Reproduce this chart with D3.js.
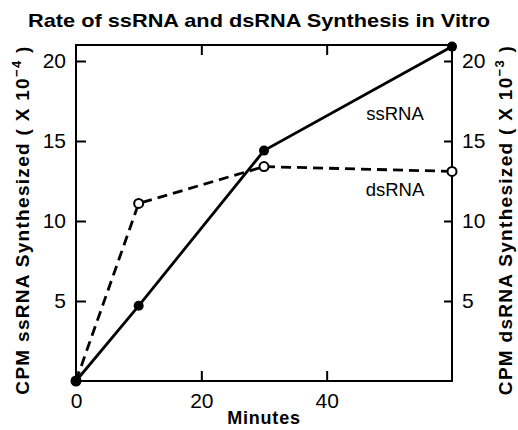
<!DOCTYPE html>
<html>
<head>
<meta charset="utf-8">
<script src="https://cdn.jsdelivr.net/npm/d3@7"></script>
<style>
  html, body { margin: 0; padding: 0; background: #fff; }
  svg { display: block; font-family: "Liberation Sans", Arial, sans-serif; }
</style>
</head>
<body>
<div id="chart"></div>
<script>
// valores
const minutes = [0, 10, 30, 60];
const ssRNA = [0, 4.7, 14.4, 20.9];   // CPM x 10^-4 (eixo esquerdo)
const dsRNA = [0, 11.1, 13.4, 13.1];  // CPM x 10^-3 (eixo direito)
const xTicks = [0, 20, 40];
const yTicks = [5, 10, 15, 20];

const W = 518, H = 430;
const margin = { top: 45, right: 66, bottom: 49, left: 76 };
const innerW = W - margin.left - margin.right;
const innerH = H - margin.top - margin.bottom;
const INK = "#000";

const svg = d3.select("#chart").append("svg")
  .attr("width", W).attr("height", H)
  .attr("viewBox", `0 0 ${W} ${H}`);

const g = svg.append("g").attr("transform", `translate(${margin.left},${margin.top})`);

const x = d3.scaleLinear().domain([0, 60]).range([0, innerW]);
const yL = d3.scaleLinear().domain([0, 21]).range([innerH, 0]);
const yR = d3.scaleLinear().domain([0, 21]).range([innerH, 0]);

// moldura
g.append("rect")
  .attr("width", innerW).attr("height", innerH)
  .attr("fill", "none").attr("stroke", INK).attr("stroke-width", 2);

function styleAxis(sel) {
  sel.select(".domain").remove();
  sel.selectAll("line").attr("stroke", INK).attr("stroke-width", 2);
  sel.selectAll("text").attr("fill", INK).attr("font-size", 21).attr("font-family", "Liberation Sans, Arial, sans-serif");
}

g.append("g").attr("transform", `translate(0,${innerH})`)
  .call(d3.axisBottom(x).tickValues(xTicks).tickSize(-10).tickPadding(12).tickFormat(d3.format("d")))
  .call(styleAxis);

g.append("g")
  .call(d3.axisTop(x).tickValues([20, 40]).tickSize(-10).tickFormat(""))
  .call(styleAxis);

g.append("g")
  .call(d3.axisLeft(yL).tickValues(yTicks).tickSize(-10).tickPadding(10))
  .call(styleAxis);

g.append("g").attr("transform", `translate(${innerW},0)`)
  .call(d3.axisRight(yR).tickValues(yTicks).tickSize(-8).tickPadding(10))
  .call(styleAxis);

const ssPts = minutes.map((m, i) => ({ m, v: ssRNA[i] }));
const dsPts = minutes.map((m, i) => ({ m, v: dsRNA[i] }));

g.append("path").datum(dsPts)
  .attr("fill", "none").attr("stroke", INK).attr("stroke-width", 2.8)
  .attr("stroke-dasharray", "10,6")
  .attr("d", d3.line().x(d => x(d.m)).y(d => yR(d.v)));

g.append("path").datum(ssPts)
  .attr("fill", "none").attr("stroke", INK).attr("stroke-width", 2.8)
  .attr("d", d3.line().x(d => x(d.m)).y(d => yL(d.v)));

g.selectAll("circle.ds").data(dsPts).join("circle")
  .attr("class", "ds")
  .attr("cx", d => x(d.m)).attr("cy", d => yR(d.v)).attr("r", 4.5)
  .attr("fill", "#fff").attr("stroke", INK).attr("stroke-width", 2);

g.selectAll("circle.ss").data(ssPts).join("circle")
  .attr("class", "ss")
  .attr("cx", d => x(d.m)).attr("cy", d => yL(d.v)).attr("r", 5)
  .attr("fill", INK);

// rótulos das séries
g.append("text").attr("x", 319).attr("y", 75).attr("text-anchor", "middle")
  .attr("font-size", 18.5).attr("fill", INK).text("ssRNA");
g.append("text").attr("x", 319).attr("y", 151).attr("text-anchor", "middle")
  .attr("font-size", 18.5).attr("fill", INK).text("dsRNA");

// título
svg.append("text").attr("x", 259).attr("y", 27).attr("text-anchor", "middle")
  .attr("font-size", 19).attr("font-weight", "bold").attr("fill", INK)
  .attr("textLength", 462).attr("lengthAdjust", "spacingAndGlyphs")
  .text("Rate of ssRNA and dsRNA Synthesis in Vitro");

// título do eixo x
svg.append("text").attr("x", margin.left + innerW / 2).attr("y", 424).attr("text-anchor", "middle")
  .attr("font-size", 18).attr("font-weight", "bold").attr("fill", INK)
  .attr("letter-spacing", 0.8)
  .text("Minutes");

// títulos verticais com expoente sobrescrito
function vLabel(cx, prefix, exp) {
  const t = svg.append("text")
    .attr("transform", `translate(${cx},220) rotate(-90)`)
    .attr("text-anchor", "middle")
    .attr("font-size", 19).attr("font-weight", "bold").attr("fill", INK)
    .attr("letter-spacing", 1.3);
  t.append("tspan").text(prefix + " ( X 10");
  t.append("tspan").attr("dy", -8).attr("font-size", 13).text("\u2212" + exp);
  t.append("tspan").attr("dy", 8).text(" )");
  return t;
}
vLabel(29, "CPM ssRNA Synthesized", "4");
vLabel(512, "CPM dsRNA Synthesized", "3");
</script>
</body>
</html>
